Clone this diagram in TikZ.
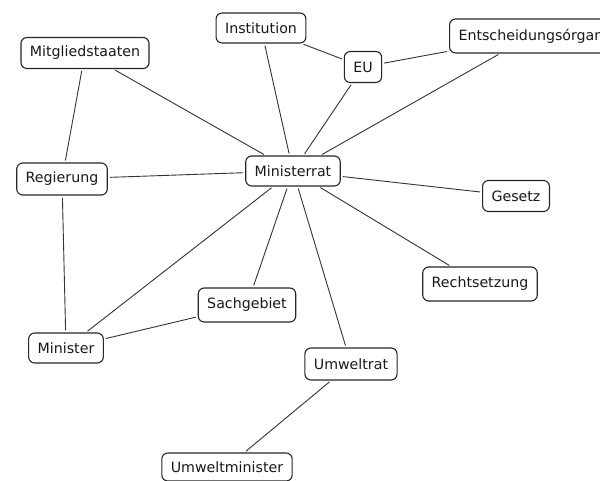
\documentclass[tikz,border=0pt]{standalone}
\usepackage{fontspec}
\setmainfont{DejaVu Sans}
\begin{document}
\begin{tikzpicture}[x=1pt,y=-1pt,
  concept/.style={draw=black!85, line width=1.1pt, rounded corners=6pt, fill=white,
    inner xsep=9pt, inner ysep=0pt, minimum height=31pt,
    font=\fontsize{14.2}{17}\selectfont, text=black!90},
  link/.style={draw=black!80, line width=0.9pt, shorten >=2pt, shorten <=2pt}]
\useasboundingbox[fill=white] (0,0) rectangle (600,481);
\node[concept] (mit) at (85,53) {Mitgliedstaaten};
\node[concept, minimum height=30pt] (inst) at (261,28) {Institution};
\node[concept] (eu) at (363,67) {EU};
\node[concept, anchor=west, minimum height=34pt] (ent) at (449,36) {Entscheidungsórgan};
\node[concept, minimum height=30pt] (mr) at (293,171) {Ministerrat};
\node[concept, minimum height=32pt] (reg) at (62,179) {Regierung};
\node[concept] (ges) at (516,196) {Gesetz};
\node[concept, minimum height=34pt] (rec) at (480,284) {Rechtsetzung};
\node[concept, minimum height=34pt] (sach) at (247,305) {Sachgebiet};
\node[concept, minimum height=30pt] (minis) at (66,348) {Minister};
\node[concept, minimum height=32pt] (uwr) at (351,364) {Umweltrat};
\node[concept, minimum height=28pt] (uwm) at (227,467) {Umweltminister};
\draw[link] (mit) -- (reg);
\draw[link] (mit) -- (mr);
\draw[link] (inst) -- (mr);
\draw[link] (inst) -- (eu);
\draw[link] (eu) -- (ent);
\draw[link] (eu) -- (mr);
\draw[link] (ent) -- (mr);
\draw[link] (reg) -- (mr);
\draw[link] (reg) -- (minis);
\draw[link] (mr) -- (ges);
\draw[link] (mr) -- (rec);
\draw[link] (mr) -- (uwr);
\draw[link] (mr) -- (sach);
\draw[link] (mr) -- (minis);
\draw[link] (minis) -- (sach);
\draw[link] (uwr) -- (uwm);
\end{tikzpicture}
\end{document}
